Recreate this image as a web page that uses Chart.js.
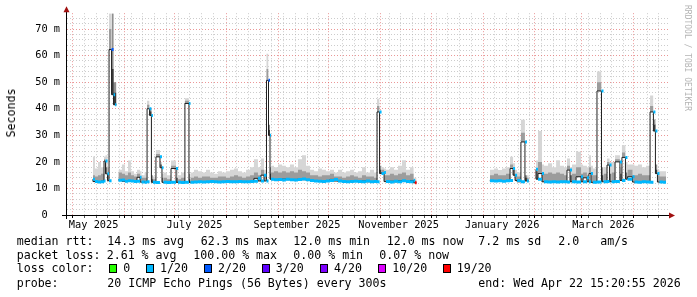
<!DOCTYPE html>
<html>
<head>
<meta charset="utf-8">
<script src="https://cdn.jsdelivr.net/npm/chart.js@4.4.1/dist/chart.umd.min.js"></script>
<style>
  html, body { margin: 0; padding: 0; background: #fff; }
  #wrap { position: relative; width: 697px; height: 297px; overflow: hidden; font-family: "DejaVu Sans Mono", monospace; color: #000; }
  #wrap canvas { position: absolute; left: 0; top: 0; }
  .t { position: absolute; font-size: 11.6px; line-height: 14px; white-space: pre; }
  .box { position: absolute; width: 8px; height: 9px; box-sizing: border-box; border: 1px solid #000; }
  #unit { position: absolute; left: 11px; top: 113px; font-size: 11.6px; white-space: pre; transform: translate(-50%, -50%) rotate(-90deg); }
  #mark { position: absolute; left: 683px; top: 5px; writing-mode: vertical-rl; font-size: 8px; line-height: 9px; color: #b4b4b4; white-space: pre; }
</style>
</head>
<body>
<div id="wrap">
  <canvas id="chart" width="697" height="297"></canvas>
  <div id="unit">Seconds</div>
  <div id="mark">RRDTOOL / TOBI OETIKER</div>
  <div id="legend"></div>
</div>
<script>
// days since the graph start (Apr 27 2025 15:20), one entry per bin start
const days = [
  15.5, 16.7, 18.5, 20.3, 22.1, 23.0, 24.2, 25.1, 26.6, 27.8, 28.7, 29.5, 30.0,
  30.7, 32.8, 34.6, 36.4, 38.2, 40.0, 41.8, 43.6, 44.5, 46.3, 47.8, 49.3, 50.4,
  51.3, 53.1, 55.5, 56.7, 57.6, 59.7, 62.1, 65.1, 66.3, 68.1, 70.4, 72.8, 73.7,
  75.8, 78.2, 80.6, 83.0, 85.4, 87.8, 90.1, 92.5, 94.9, 97.3, 99.7, 102.1, 104.5,
  106.9, 109.3, 111.6, 114.0, 115.8, 117.6, 119.1, 120.3, 121.2, 121.8, 123.6,
  126.0, 128.4, 130.7, 133.1, 135.5, 137.9, 140.3, 142.7, 145.1, 147.5, 149.9,
  152.2, 154.6, 157.0, 159.4, 161.8, 164.2, 166.6, 169.0, 171.3, 173.7, 176.1,
  178.5, 180.9, 183.3, 185.1, 186.6, 187.8, 189.3, 190.4, 192.8, 195.2, 197.6,
  200.0, 202.4, 204.8, 206.9, 207.8, 208.7, 230.0,
  252.5, 254.9, 257.3, 259.7, 262.1, 264.5, 266.3, 267.5, 268.7, 271.0, 273.4,
  274.6, 275.7, 277.0,
  280.0, 281.2, 283.6, 284.8, 287.2, 289.6, 292.0, 294.3, 296.7, 298.5, 300.3,
  301.5, 303.9, 306.9, 308.1, 310.4, 311.6, 312.8, 314.0, 316.4, 319.1, 320.3,
  322.4, 323.9, 325.1, 327.2, 330.1, 331.3, 333.4, 334.6, 337.6, 338.8, 340.9,
  343.3, 345.7, 348.1, 350.1, 351.3, 352.5, 353.7, 355.8, 357.6
];
// median rtt in ms
const median = [
  13.5, 12.6, 12.4, 12.5, 12.8, 20.3, 15.5, 12.9, 62.3, 45.3, 41.5, 41.5, null,
  13.1, 13.2, 12.7, 12.9, 12.8, 12.6, 12.7, 14.2, 12.4, 12.3, 12.5, 40.0, 37.5,
  12.3, 12.2, 21.9, 17.8, 12.3, 12.2, 12.3, 17.5, 12.3, 12.2, 12.3, 42.0, 12.3,
  12.4, 12.5, 12.4, 12.5, 12.6, 12.5, 12.4, 12.5, 12.6, 12.5, 12.5, 12.6, 12.5,
  12.5, 12.6, 12.7, 13.8, 12.8, 15.0, 12.8, 50.7, 30.0, 13.5, 13.3,
  13.4, 13.2, 13.5, 13.3, 13.2, 13.4, 13.6, 13.3, 13.0, 12.8, 12.7,
  12.6, 12.8, 13.0, 13.4, 12.8, 12.6, 12.5, 12.6, 12.7, 12.6, 12.5,
  12.8, 12.5, 12.6, 12.5, 38.8, 15.6, 16.0, 12.6, 12.4, 12.7, 12.5,
  12.9, 12.6, 12.5, 13.0, 12.1, 12.1, null,
  12.9, 12.8, 12.9, 12.7, 12.9, 13.0, 17.5, 15.0, 13.0, 12.5, 27.5,
  12.8, 12.8, null,
  17.2, 13.5, 15.6, 12.5, 12.4, 12.5, 12.4, 12.5, 12.5, 12.4, 16.9,
  12.5, 12.4, 14.4, 12.5, 14.0, 12.5, 15.6, 12.3, 12.4, 46.7, 12.5,
  12.6, 18.8, 12.5, 12.6, 20.0, 13.0, 21.7, 13.5, 14.4, 12.4, 12.3,
  12.5, 12.4, 12.3, 38.8, 31.6, 15.6, 12.4, 12.3, 12.3
];
// middle of the smoke (darker band), ms
const smokeMid = [
  15, 15, 14.5, 15, 15.5, 21, 18, 15, 70, 55, 46, 46, null,
  15.5, 16, 15.5, 15, 16, 15, 14.5, 15.5, 14.5, 14, 14, 41.5, 39,
  13.5, 13.5, 23, 19, 14, 14, 13.5, 18.5, 14, 13.5, 14, 43, 13.5,
  14, 14.5, 14, 14.5, 14.5, 14, 14, 14.5, 14.5, 14, 14.5, 15, 14.5,
  14, 14.5, 15, 16, 15, 17, 15, 55, 32, 15.5, 16,
  16.5, 16, 16.5, 16, 16.5, 16, 17, 16.5, 16, 15, 15,
  14.5, 15, 15, 15.5, 14.5, 14.5, 14, 14.5, 15, 14.5, 14,
  15, 14.5, 14.5, 14, 41, 17, 17, 15, 15, 15.5, 15,
  15.5, 16, 15, 15.5, 13, 13, null,
  15, 15, 15.5, 15, 15, 15.5, 19, 17, 15, 14.5, 31,
  14, 14, null,
  20, 16.5, 20, 15.5, 15.5, 16, 15.5, 16, 15.5, 15, 18.5,
  15, 15.5, 18, 15.5, 16, 15, 18, 15, 15, 50, 15,
  15.5, 20, 15.5, 16, 21, 15.5, 23.5, 16, 17, 15, 15,
  15.5, 15, 15, 41, 34, 17, 15, 14.5, 14.5
];
// top of the smoke (slowest ping), ms
const smokeMax = [
  17, 22, 17.5, 20, 18, 22, 22.5, 18, 76, 76, 50, 50, null,
  17, 17, 19, 16.5, 20.5, 16.5, 15.5, 17, 16.5, 15, 16, 43, 40,
  15, 14.5, 24.5, 20, 15.5, 16, 15, 20.5, 17, 15, 16, 44, 15.5,
  16, 17, 16.5, 16, 17, 16, 15.5, 16.5, 16, 16.5, 17, 17.5, 16.5,
  16, 17, 18, 21, 18, 21.3, 17, 60.7, 34, 18, 18.5,
  18, 19, 18.5, 18, 19, 18, 21, 22.5, 18.5, 17, 16.5,
  17.5, 17, 16.5, 17, 16, 17, 16, 16.5, 17, 16, 16.5,
  18, 16, 17, 16, 43.8, 18.5, 18, 17.5, 17, 18, 17,
  18.5, 20.6, 17, 18, 14, 14, null,
  16.5, 17, 17.5, 16.9, 17.5, 18, 21.9, 19.5, 17, 16, 35.9,
  15, 15, null,
  24, 20.5, 31.6, 19, 18.5, 19.5, 18, 20.6, 18.5, 18, 21.3,
  18, 19, 23.8, 19, 18.5, 18, 22.5, 18.5, 17.5, 54, 18,
  18, 21.3, 20, 20, 22.5, 18, 26.3, 20, 19, 19, 18.5,
  19, 18, 18.5, 45, 36, 19, 17, 16.5, 16.5
];
// lost pings out of 20 for each bin
const loss = [
  1, 1, 1, 1, 1, 1, 1, 1, 2, 1, 1, 1, 1,
  1, 1, 1, 1, 1, 1, 1, 1, 1, 1, 1, 1, 1,
  1, 1, 1, 1, 1, 1, 1, 1, 1, 1, 1, 1, 1,
  1, 1, 1, 1, 1, 1, 1, 1, 1, 1, 1, 1, 1,
  1, 1, 1, 1, 1, 1, 1, 2, 1, 1, 1,
  1, 1, 1, 1, 1, 1, 1, 1, 1, 1, 1,
  1, 1, 1, 1, 1, 1, 1, 1, 1, 1, 1,
  1, 1, 1, 1, 1, 1, 1, 1, 1, 1, 1,
  1, 1, 1, 1, 19, 19, 1,
  1, 1, 1, 1, 1, 1, 1, 1, 1, 1, 1,
  1, 1, 1,
  1, 1, 1, 1, 1, 1, 1, 1, 1, 1, 1,
  1, 1, 1, 1, 1, 1, 1, 1, 1, 1, 1,
  1, 1, 1, 1, 1, 1, 1, 1, 1, 1, 1,
  1, 1, 1, 1, 1, 1, 1, 1, 1, 1
];

const lossLevels = [0, 1, 2, 3, 4, 10, 19];
const lossColors = ['#26ff00', '#00b8ff', '#0059ff', '#5e00ff', '#7e00ff', '#dd00ff', '#ff0000'];

const monthStarts = [3.36, 34.36, 64.36, 95.36, 126.36, 156.36, 187.36, 217.36, 248.36, 279.36, 307.36, 338.36];
const xLabels = ['May 2025', 'July 2025', 'September 2025', 'November 2025', 'January 2026', 'March 2026'];
const xLabelDays = [15.9, 76.1, 137.3, 198.0, 259.8, 320.2];

function lossColor(n) {
  let c = lossColors[0];
  lossLevels.forEach((lv, i) => { if (n >= lv) c = lossColors[i]; });
  return c;
}

const pts = arr => days.map((d, i) => ({ x: d, y: arr[i] }));

// median band coloured by loss: one short flat piece per bin, no vertical joins
const band = [];
const bandColors = [];
for (let i = 0; i < days.length - 1; i++) {
  if (median[i] === null || median[i + 1] === null) continue;
  band.push({ x: days[i], y: median[i] }, { x: days[i + 1], y: median[i] }, { x: days[i + 1], y: null });
  bandColors.push(lossColor(loss[i]));
}

// smoke gets darker where the whole bin sat high
const midShade = c => {
  const m = median[c.p0DataIndex];
  return m > 25 ? '#3a3a3a' : (m > 16 ? '#6c6c6c' : '#9c9c9c');
};
const maxShade = c => (median[c.p0DataIndex] > 25 ? '#8e8e8e' : '#d6d6d6');

// x ticks: month grid, weekly minor grid, label positions
const xTicks = [];
monthStarts.forEach(v => xTicks.push({ value: v, kind: 'major' }));
for (let v = 10.36; v < 360; v += 7) {
  if (monthStarts.some(m => Math.abs(m - v) < 1.5)) continue;
  xTicks.push({ value: v, kind: 'minor' });
}
xLabelDays.forEach((v, i) => xTicks.push({ value: v, kind: 'label', text: xLabels[i] }));
xTicks.sort((a, b) => a.value - b.value);

const MAJOR = 'rgba(225, 95, 95, 0.65)';
const MINOR = 'rgba(170, 170, 170, 0.6)';

const axisArrows = {
  id: 'axisArrows',
  afterDatasetsDraw(chart) {
    const { ctx, chartArea: a } = chart;
    const y0 = a.bottom + 0.5, x0 = a.left - 0.5;
    ctx.save();
    ctx.strokeStyle = '#000';
    ctx.lineWidth = 1;
    ctx.beginPath();
    ctx.moveTo(a.left - 5, y0); ctx.lineTo(a.right, y0);
    ctx.moveTo(x0, a.bottom + 4); ctx.lineTo(x0, a.top - 2);
    ctx.stroke();
    ctx.fillStyle = '#a01010';
    ctx.beginPath();
    ctx.moveTo(a.right - 1, y0 - 3); ctx.lineTo(a.right + 5, y0); ctx.lineTo(a.right - 1, y0 + 3);
    ctx.fill();
    ctx.beginPath();
    ctx.moveTo(x0 - 3, a.top - 1); ctx.lineTo(x0, a.top - 7); ctx.lineTo(x0 + 3, a.top - 1);
    ctx.fill();
    ctx.restore();
  }
};

new Chart(document.getElementById('chart'), {
  type: 'line',
  data: {
    datasets: [
      {
        data: band, borderWidth: 3, borderCapStyle: 'butt', pointRadius: 0, fill: false,
        spanGaps: false, order: 1,
        segment: { borderColor: c => bandColors[Math.floor(c.p0DataIndex / 3)] }
      },
      {
        data: pts(median), borderColor: '#202020', borderWidth: 1, pointRadius: 0,
        stepped: 'after', fill: false, order: 2
      },
      {
        data: pts(smokeMid), borderWidth: 0, pointRadius: 0, stepped: 'after',
        backgroundColor: '#9c9c9c', fill: 1, order: 3,
        segment: { backgroundColor: midShade }
      },
      {
        data: pts(smokeMax), borderWidth: 0, pointRadius: 0, stepped: 'after',
        backgroundColor: '#d6d6d6', fill: 1, order: 4,
        segment: { backgroundColor: maxShade }
      }
    ]
  },
  options: {
    responsive: false,
    animation: false,
    devicePixelRatio: 1,
    layout: { padding: { top: 13, right: 27, left: 0, bottom: 0 } },
    plugins: { legend: { display: false }, tooltip: { enabled: false } },
    scales: {
      x: {
        type: 'linear', min: 0, max: 360,
        afterBuildTicks: s => { s.ticks = xTicks.map(t => Object.assign({}, t)); },
        afterFit: s => { s.height = 82; },
        ticks: {
          autoSkip: false, maxRotation: 0, minRotation: 0, padding: 1, color: '#000',
          font: { family: 'DejaVu Sans Mono', size: 10.3 },
          callback: (v, i, ticks) => ticks[i].kind === 'label' ? ticks[i].text : ''
        },
        grid: {
          lineWidth: 1, tickLength: 3,
          color: c => c.tick.kind === 'major' ? MAJOR : (c.tick.kind === 'minor' ? MINOR : 'rgba(0,0,0,0)'),
          tickColor: c => c.tick.kind === 'major' ? '#000' : (c.tick.kind === 'minor' ? '#555' : 'rgba(0,0,0,0)')
        },
        border: { display: false, dash: [1, 2] }
      },
      y: {
        min: 0, max: 76,
        afterFit: s => { s.width = 67; },
        ticks: {
          stepSize: 2, maxTicksLimit: 100, autoSkip: false, padding: 7, color: '#000',
          font: { family: 'DejaVu Sans Mono', size: 10.3 },
          callback: v => v % 10 === 0 ? (v === 0 ? '0  ' : v + ' m') : ''
        },
        grid: {
          drawTicks: false, lineWidth: 1,
          color: c => {
            const v = c.tick.value;
            if (v === 0 || v === 76) return 'rgba(0,0,0,0)';
            return v % 10 === 0 ? MAJOR : MINOR;
          }
        },
        border: { display: false, dash: [1, 2] }
      }
    }
  },
  plugins: [axisArrows]
});

// text legend below the plot
const rows = [
  { top: 233.5, items: [[16.7, 'median rtt:'], [107.3, '14.3 ms avg'], [200.7, '62.3 ms max'], [293.3, '12.0 ms min'], [386.7, '12.0 ms now'], [478.3, '7.2 ms sd'], [558.3, '2.0   am/s']] },
  { top: 247.5, items: [[16.7, 'packet loss:'], [106.7, '2.61 % avg'], [193.3, '100.00 % max'], [293.3, '0.00 % min'], [379.3, '0.07 % now']] },
  { top: 261, items: [[16.7, 'loss color:']] },
  { top: 275.5, items: [[16.7, 'probe:'], [107.3, '20 ICMP Echo Pings (56 Bytes) every 300s'], [478.3, 'end: Wed Apr 22 15:20:55 2026']] }
];
const lossLegend = [['0', 109.3], ['1/20', 146], ['2/20', 204], ['3/20', 261.7], ['4/20', 320], ['10/20', 378.3], ['19/20', 442.7]];

const legend = document.getElementById('legend');
rows.forEach(r => r.items.forEach(([x, s]) => {
  const el = document.createElement('div');
  el.className = 't';
  el.style.left = x + 'px';
  el.style.top = r.top + 'px';
  el.textContent = s;
  legend.appendChild(el);
}));
lossLegend.forEach(([s, x], i) => {
  const b = document.createElement('div');
  b.className = 'box';
  b.style.left = x + 'px';
  b.style.top = '264px';
  b.style.background = lossColors[i];
  legend.appendChild(b);
  const el = document.createElement('div');
  el.className = 't';
  el.style.left = (x + 14) + 'px';
  el.style.top = '261px';
  el.textContent = s;
  legend.appendChild(el);
});
</script>
</body>
</html>
